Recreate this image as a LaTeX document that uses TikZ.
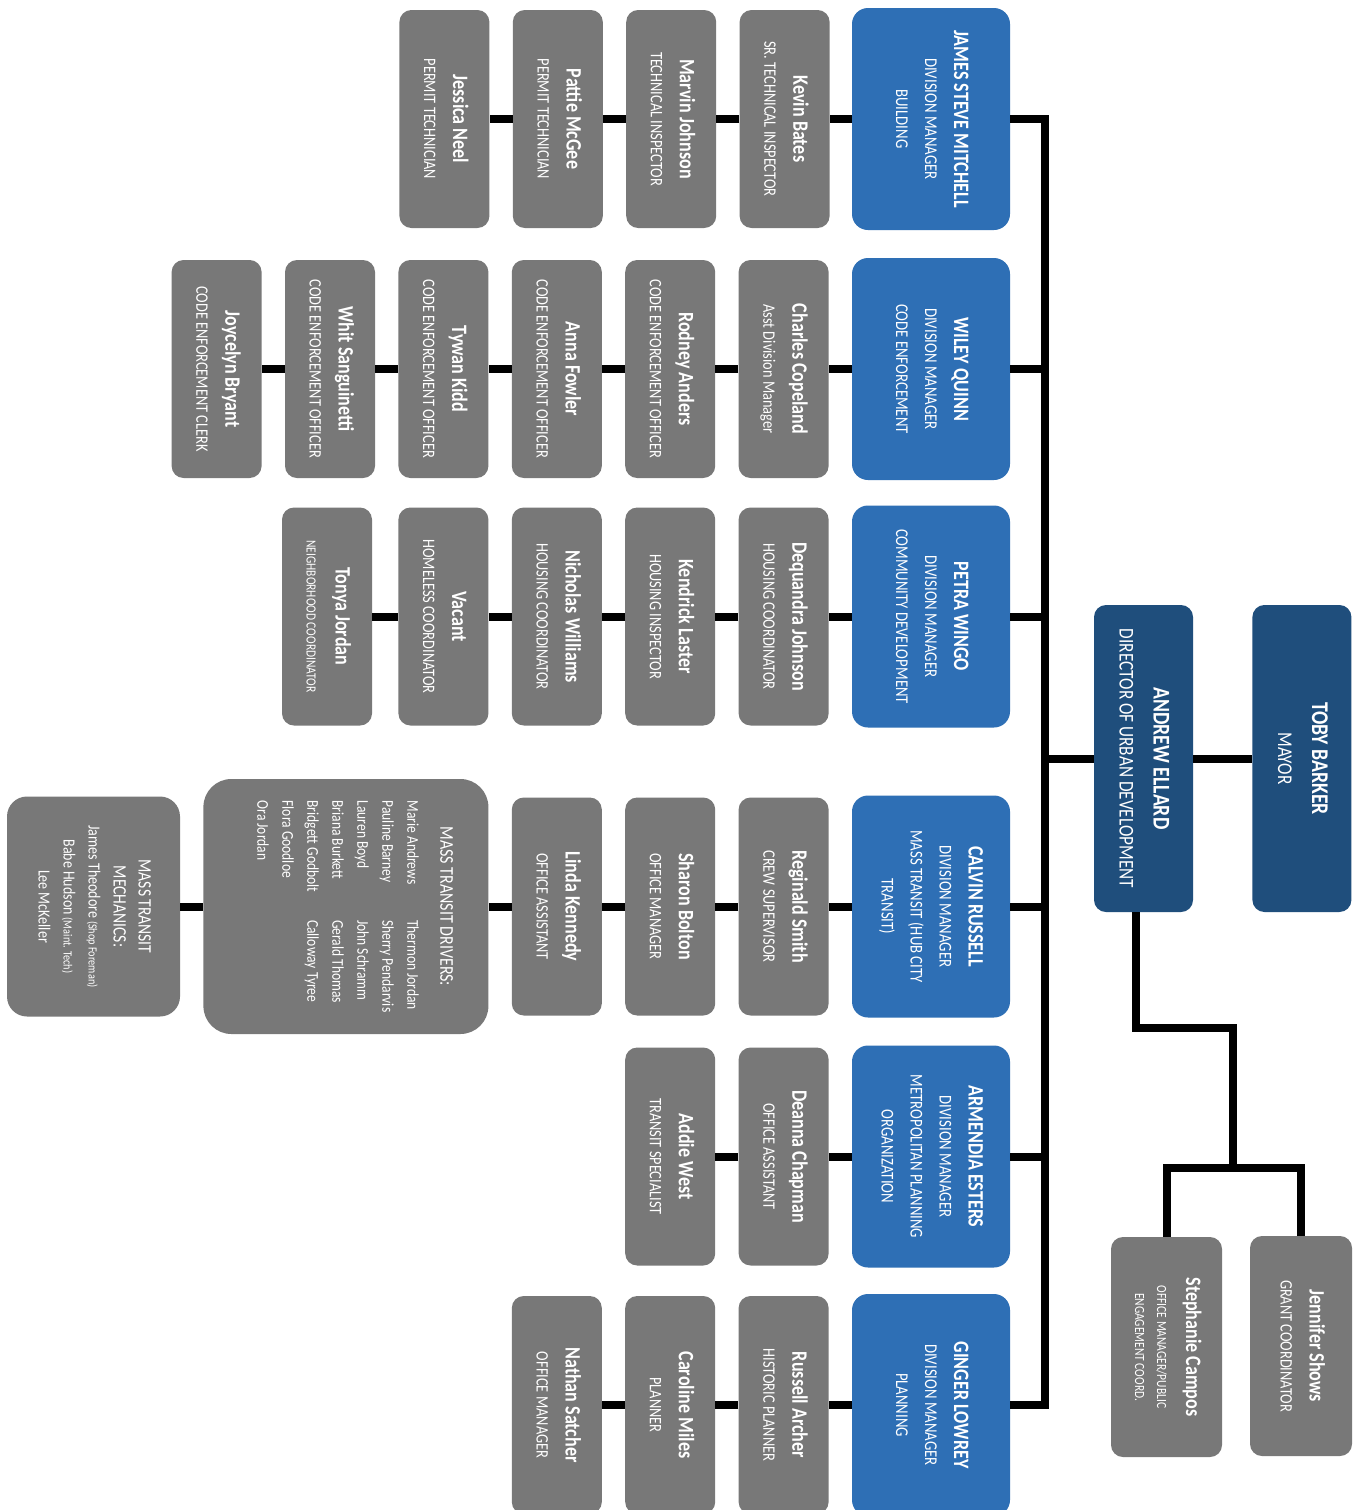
\documentclass[tikz,border=0pt]{standalone}
\usepackage{fontspec}
\setmainfont{Carlito}[FakeStretch=0.82]
\usepackage{graphicx}
\usepackage{xcolor}
\definecolor{staffgrey}{HTML}{787878}
\definecolor{divblue}{HTML}{2E6FB5}
\definecolor{topblue}{HTML}{1F4E7C}
\usepackage{tikz}
\usetikzlibrary{positioning}

% rotated card text: bold name, then title lines
\newcommand{\card}[2]{\rotatebox{-90}{\begin{tabular}{@{}c@{}}\bfseries\fontsize{22}{29}\selectfont #1\\#2\end{tabular}}}

\begin{document}
\begin{tikzpicture}[
  x=1pt, y=-1pt,
  node distance=23pt,
  staff/.style={fill=staffgrey, text=white, rounded corners=12pt, inner sep=0pt, minimum width=90pt, minimum height=218pt, font=\fontsize{17.5}{29}\selectfont},
  head/.style={fill=divblue, text=white, rounded corners=16pt, inner sep=0pt, minimum width=158pt, minimum height=222pt, font=\fontsize{18}{29}\selectfont},
  chief/.style={fill=topblue, text=white, rounded corners=12pt, inner sep=0pt, minimum width=99pt, minimum height=307pt, font=\fontsize{21}{34}\selectfont},
  link/.style={draw=black, line width=8pt},
]
\fill[white] (0,0) rectangle (1361,1510);
\clip (0,0) rectangle (1361,1510);

% Top
\node[chief] (ellard) at (1143.5,758.5) {\card{\fontsize{24}{34}\selectfont ANDREW ELLARD}{DIRECTOR OF URBAN DEVELOPMENT}};
\node[chief, right=59pt of ellard] (barker) {\card{\fontsize{24}{34}\selectfont TOBY BARKER}{MAYOR}};
\node[staff, minimum width=111pt, minimum height=220pt] (campos) at (1166.5,1347) {\card{Stephanie Campos}{\fontsize{14}{20}\selectfont OFFICE MANAGER/PUBLIC\\[-7pt]\fontsize{14}{20}\selectfont ENGAGEMENT COORD.}};
\node[staff, minimum width=102pt, minimum height=220pt] (shows) at (1301,1346) {\card{Jennifer Shows}{GRANT COORDINATOR}};

% Divisions
\node[head] (mitchell) at (931,119) {\card{JAMES STEVE MITCHELL}{DIVISION MANAGER\\BUILDING}};
\node[head] (quinn) at (931,369) {\card{WILEY QUINN}{DIVISION MANAGER\\CODE ENFORCEMENT}};
\node[head] (wingo) at (931,616.5) {\card{PETRA WINGO}{DIVISION MANAGER\\COMMUNITY DEVELOPMENT}};
\node[head] (russell) at (931,906.5) {\card{CALVIN RUSSELL}{DIVISION MANAGER\\MASS TRANSIT (HUB CITY\\TRANSIT)}};
\node[head] (esters) at (931,1156.5) {\card{ARMENDIA ESTERS}{DIVISION MANAGER\\METROPOLITAN PLANNING\\ORGANIZATION}};
\node[head] (lowrey) at (931,1405) {\card{GINGER LOWREY}{DIVISION MANAGER\\PLANNING}};

% Building
\node[staff, left=22pt of mitchell] (bates) {\card{Kevin Bates}{SR. TECHNICAL INSPECTOR}};
\node[staff, left=of bates] (mjohnson) {\card{Marvin Johnson}{TECHNICAL INSPECTOR}};
\node[staff, left=of mjohnson] (mcgee) {\card{Pattie McGee}{PERMIT TECHNICIAN}};
\node[staff, left=of mcgee] (neel) {\card{Jessica Neel}{PERMIT TECHNICIAN}};

% Code enforcement
\node[staff, left=of quinn] (copeland) {\card{Charles Copeland}{Asst Division Manager}};
\node[staff, left=of copeland] (anders) {\card{Rodney Anders}{CODE ENFORCEMENT OFFICER}};
\node[staff, left=of anders] (fowler) {\card{Anna Fowler}{CODE ENFORCEMENT OFFICER}};
\node[staff, left=of fowler] (kidd) {\card{Tywan Kidd}{CODE ENFORCEMENT OFFICER}};
\node[staff, left=of kidd] (sanguinetti) {\card{Whit Sanguinetti}{CODE ENFORCEMENT OFFICER}};
\node[staff, left=of sanguinetti] (bryant) {\card{Joycelyn Bryant}{CODE ENFORCEMENT CLERK}};

% Community development
\node[staff, left=of wingo] (djohnson) {\card{Dequandra Johnson}{HOUSING COORDINATOR}};
\node[staff, left=of djohnson] (laster) {\card{Kendrick Laster}{HOUSING INSPECTOR}};
\node[staff, left=of laster] (williams) {\card{Nicholas Williams}{HOUSING COORDINATOR}};
\node[staff, left=of williams] (vacant) {\card{Vacant}{HOMELESS COORDINATOR}};
\node[staff, left=26pt of vacant] (tjordan) {\card{Tonya Jordan}{\fontsize{14}{29}\selectfont NEIGHBORHOOD COORDINATOR}};

% Mass transit
\node[staff, left=of russell] (smith) {\card{Reginald Smith}{CREW SUPERVISOR}};
\node[staff, left=of smith] (bolton) {\card{Sharon Bolton}{OFFICE MANAGER}};
\node[staff, left=of bolton] (kennedy) {\card{Linda Kennedy}{OFFICE ASSISTANT}};
\node[staff, left=of kennedy, minimum width=285pt, minimum height=255pt, rounded corners=28pt, font=\fontsize{16.5}{25}\selectfont] (drivers) {\rotatebox{-90}{\begin{tabular}{@{}l@{\hspace{28pt}}l@{}}
  \multicolumn{2}{@{}c@{}}{\fontsize{19.5}{25}\selectfont MASS TRANSIT DRIVERS:}\\[8pt]
  Marie Andrews & Thermon Jordan\\
  Pauline Barney & Sherry Pendarvis\\
  Lauren Boyd & John Schramm\\
  Briana Burkett & Gerald Thomas\\
  Bridgett Godbolt & Calloway Tyree\\
  Flora Goodloe & \\
  Ora Jordan & \\[16pt]
\end{tabular}}};
\node[staff, left=of drivers, minimum width=173pt, minimum height=220pt, rounded corners=20pt, font=\fontsize{17}{25}\selectfont] (mechanics) {\rotatebox{-90}{\begin{tabular}{@{}c@{}}
  \fontsize{19}{25}\selectfont MASS TRANSIT\\
  \fontsize{19}{25}\selectfont MECHANICS:\\
  James Theodore {\fontsize{12.5}{25}\selectfont (Shop Foreman)}\\
  Babe Hudson {\fontsize{12.5}{25}\selectfont (Maint. Tech)}\\
  Lee McKeller
\end{tabular}}};

% MPO
\node[staff, left=of esters] (chapman) {\card{Deanna Chapman}{OFFICE ASSISTANT}};
\node[staff, left=of chapman] (west) {\card{Addie West}{TRANSIT SPECIALIST}};

% Planning
\node[staff, left=of lowrey] (archer) {\card{Russell Archer}{HISTORIC PLANNER}};
\node[staff, left=of archer] (miles) {\card{Caroline Miles}{PLANNER}};
\node[staff, left=of miles] (satcher) {\card{Nathan Satcher}{OFFICE MANAGER}};

% Connectors
\coordinate (spine) at (1045,758.5);
\coordinate (elbow) at (1233,1028);
\coordinate (fork) at (1233,1168);
\draw[link] (ellard.east) -- (barker.west);
\draw[link] (ellard.west) -- (spine);
\draw[link] (mitchell.east) -- (mitchell.east -| spine) -- (lowrey.east -| spine) -- (lowrey.east);
\foreach \h in {quinn,wingo,russell,esters}
  \draw[link] (\h.east) -- (\h.east -| spine);
\draw[link] ([xshift=-8pt]ellard.south) |- (elbow) -- (fork);
\draw[link] (campos.north) -- (campos.north |- fork) -- (shows.north |- fork) -- (shows.north);

\foreach \a/\b in {mitchell/bates, bates/mjohnson, mjohnson/mcgee, mcgee/neel,
  quinn/copeland, copeland/anders, anders/fowler, fowler/kidd, kidd/sanguinetti, sanguinetti/bryant,
  wingo/djohnson, djohnson/laster, laster/williams, williams/vacant, vacant/tjordan,
  russell/smith, smith/bolton, bolton/kennedy, kennedy/drivers, drivers/mechanics,
  esters/chapman, chapman/west,
  lowrey/archer, archer/miles, miles/satcher}
  \draw[link] (\a.west) -- (\b.east);
\end{tikzpicture}
\end{document}
